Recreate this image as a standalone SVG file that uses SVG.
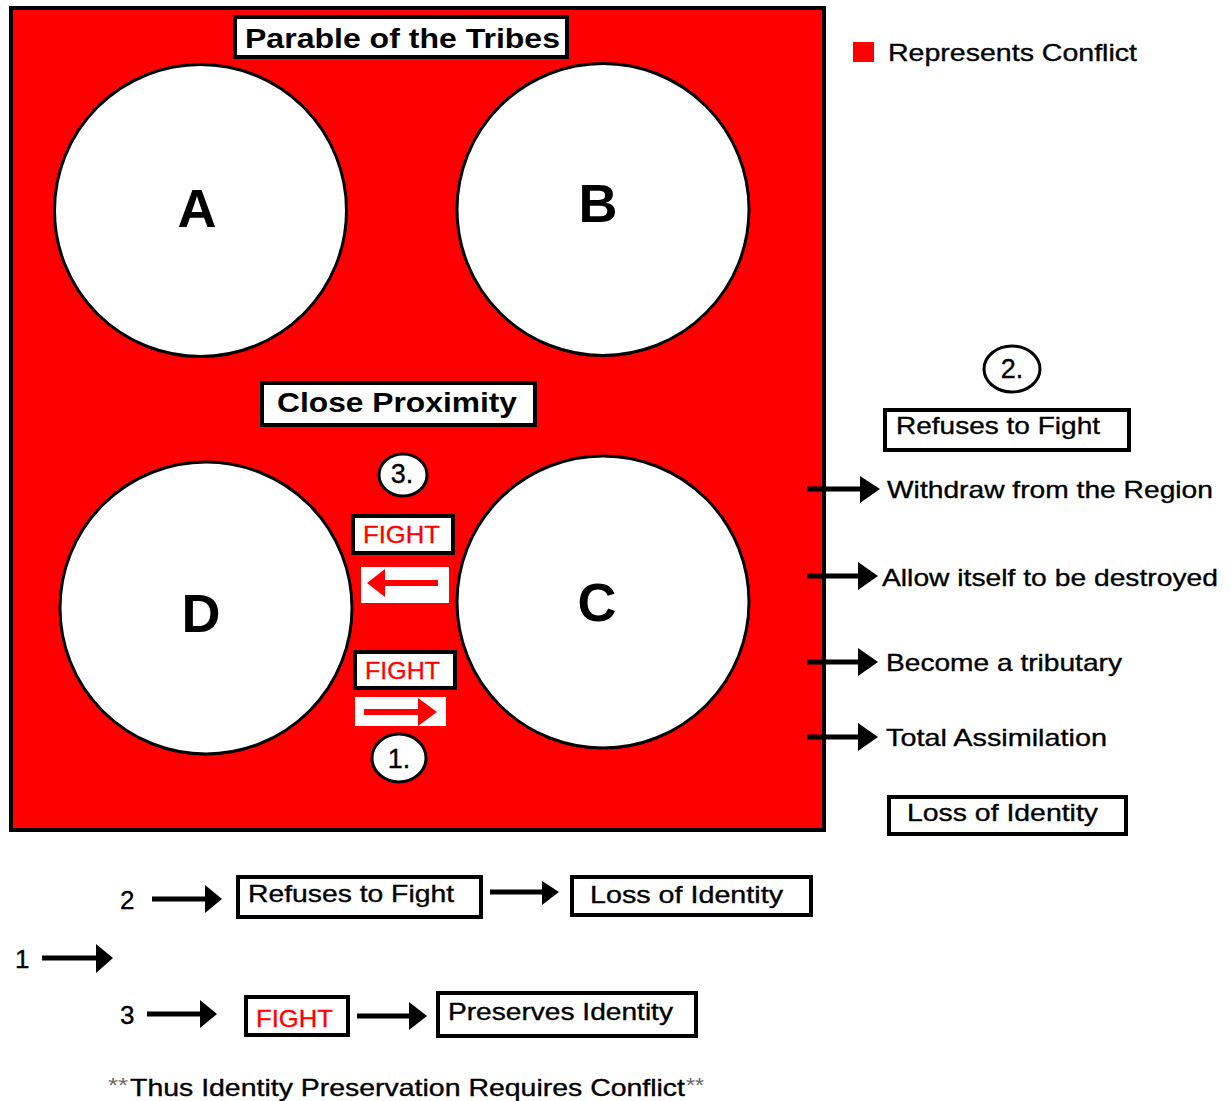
<svg xmlns="http://www.w3.org/2000/svg" width="1231" height="1101" viewBox="0 0 1231 1101">
  <style>
    text { font-family: "Liberation Sans", Arial, sans-serif; }
    .lbl { font-size: 24px; fill: #000; stroke: #000; stroke-width: 0.35; }
    .digit { font-size: 26px; fill: #000; stroke: #000; stroke-width: 0.35; }
    .num { font-size: 27px; fill: #000; stroke: #000; stroke-width: 0.35; text-anchor: middle; }
    .big { font-size: 27px; font-weight: bold; fill: #000; }
    .tribe { font-size: 54px; font-weight: bold; fill: #000; text-anchor: middle; }
    .fight { font-size: 24px; fill: #ff0000; stroke: #ff0000; stroke-width: 0.3; }
    .star { font-size: 20px; fill: #666; }
    .box { fill: #fff; stroke: #000; stroke-width: 4; }
    .tribe-circle { fill: #fff; stroke: #000; stroke-width: 3; }
    .step { fill: #fff; stroke: #000; stroke-width: 3; }
    .shaft { stroke: #000; stroke-width: 5; fill: none; }
    .shaft-red { stroke: #ff0000; stroke-width: 6; fill: none; }
    .head { fill: #000; }
    .head-red { fill: #ff0000; }
  </style>

  <rect width="1231" height="1101" fill="#fff"/>

  <!-- conflict region -->
  <g id="region">
    <rect x="11" y="8" width="813" height="822" fill="#ff0000" stroke="#000" stroke-width="4"/>
  </g>

  <g id="title">
    <rect class="box" x="235" y="17" width="332" height="40"/>
    <text class="big" x="245" y="48" textLength="315" lengthAdjust="spacingAndGlyphs">Parable of the Tribes</text>
  </g>

  <g id="proximity">
    <rect class="box" x="262" y="383" width="273" height="42"/>
    <text class="big" x="277" y="412" textLength="240" lengthAdjust="spacingAndGlyphs">Close Proximity</text>
  </g>

  <!-- tribes -->
  <g id="tribe-a">
    <circle class="tribe-circle" cx="200.5" cy="210.5" r="146"/>
    <text class="tribe" x="197" y="227">A</text>
  </g>
  <g id="tribe-b">
    <circle class="tribe-circle" cx="603" cy="209.5" r="146"/>
    <text class="tribe" x="598" y="222">B</text>
  </g>
  <g id="tribe-d">
    <circle class="tribe-circle" cx="206" cy="608" r="146"/>
    <text class="tribe" x="201" y="632">D</text>
  </g>
  <g id="tribe-c">
    <circle class="tribe-circle" cx="603" cy="602" r="146"/>
    <text class="tribe" x="597" y="621">C</text>
  </g>

  <!-- fight exchange between C and D -->
  <g id="step-3">
    <ellipse class="step" cx="403" cy="475" rx="24" ry="21"/>
    <text class="num" x="402" y="483">3.</text>
  </g>
  <g id="fight-upper">
    <rect class="box" x="353" y="516" width="100" height="37"/>
    <text class="fight" x="363" y="543" textLength="77" lengthAdjust="spacingAndGlyphs">FIGHT</text>
  </g>
  <g id="fight-arrow-left">
    <rect x="361" y="567" width="88" height="36" fill="#fff"/>
    <line class="shaft-red" x1="438" y1="583" x2="383" y2="583"/>
    <polygon class="head-red" points="385,569 367,583 385,597"/>
  </g>
  <g id="fight-lower">
    <rect class="box" x="355" y="652" width="100" height="36"/>
    <text class="fight" x="365" y="679" textLength="75" lengthAdjust="spacingAndGlyphs">FIGHT</text>
  </g>
  <g id="fight-arrow-right">
    <rect x="355" y="697" width="91" height="29" fill="#fff"/>
    <line class="shaft-red" x1="364" y1="712" x2="420" y2="712"/>
    <polygon class="head-red" points="418,698 437,712 418,726"/>
  </g>
  <g id="step-1">
    <ellipse class="step" cx="399" cy="758" rx="27" ry="24"/>
    <text class="num" x="399" y="768">1.</text>
  </g>

  <!-- legend -->
  <g id="legend">
    <rect x="853" y="42" width="21" height="20" fill="#ff0000"/>
    <text class="lbl" x="888" y="61" textLength="249" lengthAdjust="spacingAndGlyphs">Represents Conflict</text>
  </g>

  <!-- refusal outcomes -->
  <g id="step-2">
    <ellipse class="step" cx="1012" cy="369" rx="28" ry="23"/>
    <text class="num" x="1012" y="378">2.</text>
  </g>
  <g id="refuses-right">
    <rect class="box" x="885" y="410" width="244" height="40"/>
    <text class="lbl" x="896" y="434" textLength="204" lengthAdjust="spacingAndGlyphs">Refuses to Fight</text>
  </g>
  <g id="withdraw">
    <text class="lbl" x="887" y="498" textLength="326" lengthAdjust="spacingAndGlyphs">Withdraw from the Region</text>
  </g>
  <g id="destroyed">
    <text class="lbl" x="882" y="586" textLength="336" lengthAdjust="spacingAndGlyphs">Allow itself to be destroyed</text>
  </g>
  <g id="tributary">
    <text class="lbl" x="886" y="671" textLength="236" lengthAdjust="spacingAndGlyphs">Become a tributary</text>
  </g>
  <g id="assimilation">
    <text class="lbl" x="886" y="746" textLength="221" lengthAdjust="spacingAndGlyphs">Total Assimilation</text>
  </g>
  <g id="loss-right">
    <rect class="box" x="889" y="797" width="237" height="37"/>
    <text class="lbl" x="907" y="821" textLength="191" lengthAdjust="spacingAndGlyphs">Loss of Identity</text>
  </g>

  <!-- summary flow -->
  <g id="label-1"><text class="digit" x="15" y="968">1</text></g>
  <g id="label-2"><text class="digit" x="120" y="909">2</text></g>
  <g id="label-3"><text class="digit" x="120" y="1024">3</text></g>
  <g id="refuses-bottom">
    <rect class="box" x="238" y="877" width="243" height="40"/>
    <text class="lbl" x="248" y="902" textLength="206" lengthAdjust="spacingAndGlyphs">Refuses to Fight</text>
  </g>
  <g id="loss-bottom">
    <rect class="box" x="572" y="877" width="239" height="38"/>
    <text class="lbl" x="590" y="903" textLength="193" lengthAdjust="spacingAndGlyphs">Loss of Identity</text>
  </g>
  <g id="fight-bottom">
    <rect class="box" x="246" y="997" width="102" height="38"/>
    <text class="fight" x="256" y="1027" textLength="77" lengthAdjust="spacingAndGlyphs">FIGHT</text>
  </g>
  <g id="preserves">
    <rect class="box" x="438" y="993" width="258" height="43"/>
    <text class="lbl" x="448" y="1020" textLength="225" lengthAdjust="spacingAndGlyphs">Preserves Identity</text>
  </g>
  <g id="conclusion">
    <text class="star" x="108" y="1092" textLength="20" lengthAdjust="spacingAndGlyphs">**</text>
    <text class="lbl" x="130" y="1096" textLength="555" lengthAdjust="spacingAndGlyphs">Thus Identity Preservation Requires Conflict</text>
    <text class="star" x="686" y="1092" textLength="18" lengthAdjust="spacingAndGlyphs">**</text>
  </g>

  <!-- connectors -->
  <g id="connectors">
    <line class="shaft" x1="807" y1="489" x2="861" y2="489"/>
    <polygon class="head" points="860,476 880,489 860,503"/>
    <line class="shaft" x1="807" y1="576" x2="859" y2="576"/>
    <polygon class="head" points="858,562 878,576 858,590"/>
    <line class="shaft" x1="807" y1="662" x2="859" y2="662"/>
    <polygon class="head" points="858,648 878,662 858,676"/>
    <line class="shaft" x1="807" y1="737" x2="859" y2="737"/>
    <polygon class="head" points="858,723 878,737 858,751"/>

    <line class="shaft" x1="152" y1="899" x2="206" y2="899"/>
    <polygon class="head" points="205,885 222,899 205,913"/>
    <line class="shaft" x1="42" y1="958" x2="97" y2="958"/>
    <polygon class="head" points="96,944 113,958 96,973"/>
    <line class="shaft" x1="147" y1="1014" x2="201" y2="1014"/>
    <polygon class="head" points="200,1000 217,1014 200,1028"/>
    <line class="shaft" x1="490" y1="892" x2="543" y2="892"/>
    <polygon class="head" points="542,881 559,892 542,905"/>
    <line class="shaft" x1="357" y1="1016" x2="410" y2="1016"/>
    <polygon class="head" points="409,1002 427,1016 409,1030"/>
  </g>
</svg>
